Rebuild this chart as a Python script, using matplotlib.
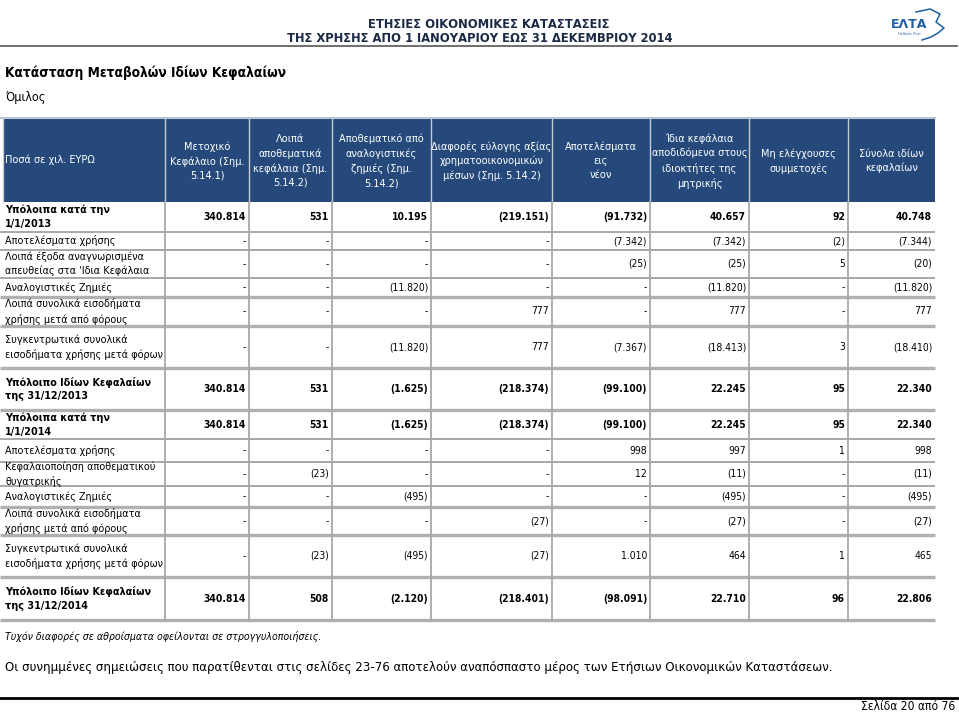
import matplotlib
matplotlib.use("Agg")
import matplotlib.pyplot as plt
from matplotlib import font_manager as fm

plt.rcParams['font.family'] = ['DejaVu Sans']

# ---------------- data ----------------
row_labels = [
    "Υπόλοιπα κατά την\n1/1/2013",
    "Αποτελέσματα χρήσης",
    "Λοιπά έξοδα αναγνωρισμένα\nαπευθείας στα 'Ιδια Κεφάλαια",
    "Αναλογιστικές Ζημιές",
    "Λοιπά συνολικά εισοδήματα\nχρήσης μετά από φόρους",
    "Συγκεντρωτικά συνολικά\nεισοδήματα χρήσης μετά φόρων",
    "Υπόλοιπο Ιδίων Κεφαλαίων\nτης 31/12/2013",
    "Υπόλοιπα κατά την\n1/1/2014",
    "Αποτελέσματα χρήσης",
    "Κεφαλαιοποίηση αποθεματικού\nθυγατρικής",
    "Αναλογιστικές Ζημιές",
    "Λοιπά συνολικά εισοδήματα\nχρήσης μετά από φόρους",
    "Συγκεντρωτικά συνολικά\nεισοδήματα χρήσης μετά φόρων",
    "Υπόλοιπο Ιδίων Κεφαλαίων\nτης 31/12/2014",
]
bold_rows = [0, 6, 7, 13]

column_headers = [
    "Μετοχικό\nΚεφάλαιο (Σημ.\n5.14.1)",
    "Λοιπά\nαποθεματικά\nκεφάλαια (Σημ.\n5.14.2)",
    "Αποθεματικό από\nαναλογιστικές\nζημιές (Σημ.\n5.14.2)",
    "Διαφορές εύλογης αξίας\nχρηματοοικονομικών\nμέσων (Σημ. 5.14.2)",
    "Αποτελέσματα\nεις\nνέον",
    "Ίδια κεφάλαια\nαποδιδόμενα στους\nιδιοκτήτες της\nμητρικής",
    "Μη ελέγχουσες\nσυμμετοχές",
    "Σύνολα ιδίων\nκεφαλαίων",
]
first_header = "Ποσά σε χιλ. ΕΥΡΩ"

share_capital = [340814, None, None, None, None, None, 340814, 340814, None, None, None, None, None, 340814]
other_reserves = [531, None, None, None, None, None, 531, 531, None, -23, None, None, -23, 508]
actuarial_reserve = [10195, None, None, -11820, None, -11820, -1625, -1625, None, None, -495, None, -495, -2120]
fair_value_diff = [-219151, None, None, None, 777, 777, -218374, -218374, None, None, None, -27, -27, -218401]
retained_earnings = [-91732, -7342, -25, None, None, -7367, -99100, -99100, 998, 12, None, None, 1010, -98091]
parent_equity = [40657, -7342, -25, -11820, 777, -18413, 22245, 22245, 997, -11, -495, -27, 464, 22710]
non_controlling = [92, -2, 5, None, None, 3, 95, 95, 1, None, None, None, 1, 96]
total_equity = [40748, -7344, -20, -11820, 777, -18410, 22340, 22340, 998, -11, -495, -27, 465, 22806]

columns = [share_capital, other_reserves, actuarial_reserve, fair_value_diff,
           retained_earnings, parent_equity, non_controlling, total_equity]


def fmt(v):
    if v is None:
        return "-"
    s = f"{abs(v):,}".replace(",", ".")
    return f"({s})" if v < 0 else s


# condensed face if available (narrower, closer to the original Tahoma look)
has_cond = any(f.name == 'DejaVu Sans' and str(f.stretch) == 'condensed'
               for f in fm.fontManager.ttflist)
STRETCH = 'condensed' if has_cond else 'normal'


def S(x):
    return x / 0.89 if has_cond else x


def T(x, y, s, size, **kw):
    ax.text(x, y, s, fontsize=S(size), fontstretch=STRETCH, **kw)


# ---------------- layout ----------------
W, H = 959, 713
fig = plt.figure(figsize=(W / 100, H / 100), dpi=100)
ax = fig.add_axes([0, 0, 1, 1])
ax.set_xlim(0, W)
ax.set_ylim(H, 0)
ax.axis('off')

col_x = [3, 165, 249, 332, 431, 552, 650, 749, 848, 935]
row_y = [202, 232, 250, 278, 297, 326, 368, 410, 439, 462, 486, 507, 535, 577, 620]
thick_lines = {297, 326, 368, 410, 507, 535, 577, 620}
head_top, head_bot = 119, 202

navy = '#26497B'
grid = '#a8a8a8'

# page header
T(489, 25, "ΕΤΗΣΙΕΣ ΟΙΚΟΝΟΜΙΚΕΣ ΚΑΤΑΣΤΑΣΕΙΣ", 8.3, ha='center', va='center',
  fontweight='bold', color='#1b2a44')
T(480, 38, "ΤΗΣ ΧΡΗΣΗΣ ΑΠΟ 1 ΙΑΝΟΥΑΡΙΟΥ ΕΩΣ 31 ΔΕΚΕΜΒΡΙΟΥ 2014", 8.3, ha='center', va='center',
  fontweight='bold', color='#1b2a44')
ax.plot([0, 957], [46, 46], color='#555555', lw=1.2)
# logo
ax.text(909, 24, "ΕΛΤΑ", ha='center', va='center', fontsize=9, fontweight='bold', color='#1d5fa6')
ax.text(909, 34, "Hellenic Post", ha='center', va='center', fontsize=2.5, color='#1d5fa6')
ax.plot([916, 930, 940, 936, 944, 938, 931, 922], [12, 9, 14, 22, 28, 33, 37, 40],
        color='#1d5fa6', lw=1.1)

# title
T(5, 73, "Κατάσταση Μεταβολών Ιδίων Κεφαλαίων", 8.7, ha='left', va='center',
  fontweight='bold', color='black')
T(5, 97, "Όμιλος", 8.0, ha='left', va='center', color='black')

# header block
ax.add_patch(plt.Rectangle((col_x[0], head_top), col_x[-1] - col_x[0], head_bot - head_top,
                           facecolor=navy, edgecolor='none'))
ax.plot([0, 935], [head_top - 1, head_top - 1], color='#b9c6d3', lw=1.5)
for x in col_x[:-1]:
    ax.plot([x, x], [head_top, head_bot], color='#c5ccd6', lw=1.0)
T(col_x[0] + 2, 160, first_header, 7.0, ha='left', va='center', color='white')
for i, h in enumerate(column_headers):
    cx = (col_x[i + 1] + col_x[i + 2]) / 2
    T(cx, 161, h, 7.0, ha='center', va='center', color='white', linespacing=1.5)

# body grid
for y in row_y[1:]:
    thick = y in thick_lines
    ax.plot([0, 935], [y, y], color='#b0b0b0' if thick else grid,
            lw=2.4 if thick else 1.4, solid_capstyle='butt')
for x in col_x[1:-1]:
    ax.plot([x, x], [head_bot, row_y[-1]], color=grid, lw=1.3)

# body text
for r, label in enumerate(row_labels):
    yc = (row_y[r] + row_y[r + 1]) / 2
    fw = 'bold' if r in bold_rows else 'normal'
    T(5, yc, label, 6.9, ha='left', va='center', fontweight=fw, linespacing=1.45, color='black')
    for c, col in enumerate(columns):
        T(col_x[c + 2] - 3, yc, fmt(col[r]), 6.6, ha='right', va='center',
          fontweight=fw, color='black')

# footer
T(5, 637, "Τυχόν διαφορές σε αθροίσματα οφείλονται σε στρογγυλοποιήσεις.", 6.7, ha='left',
  va='center', style='italic', color='black')
T(5, 667, "Οι συνημμένες σημειώσεις που παρατίθενται στις σελίδες 23-76 αποτελούν αναπόσπαστο μέρος "
  "των Ετήσιων Οικονομικών Καταστάσεων.", 8.4, ha='left', va='center', color='black')
ax.plot([0, 959], [698, 698], color='black', lw=2)
T(955, 706, "Σελίδα 20 από 76", 7.7, ha='right', va='center', color='black')

fig.savefig("out.png", dpi=100)
